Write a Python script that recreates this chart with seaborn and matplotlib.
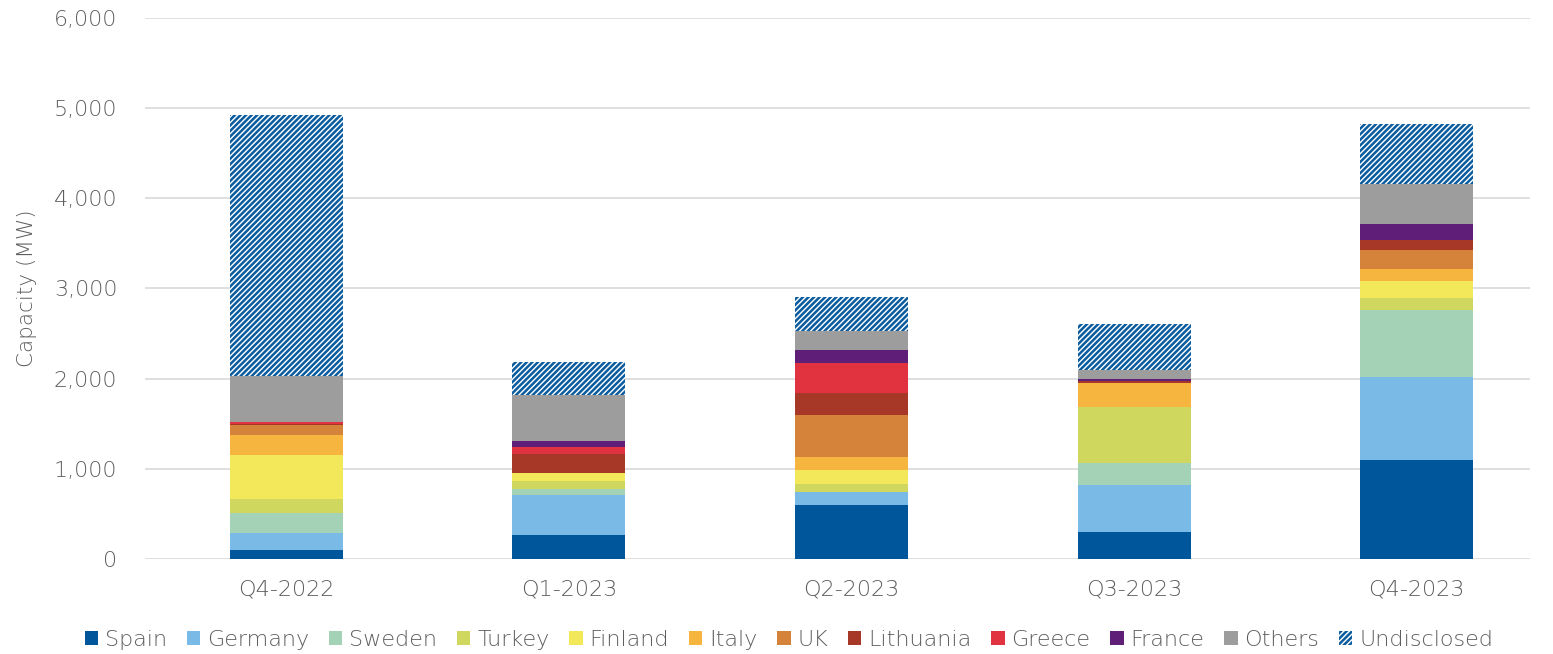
import numpy as np
import pandas as pd
import matplotlib
matplotlib.use("Agg")
import matplotlib.pyplot as plt
from matplotlib.patches import Patch
import seaborn as sns

quarters = ["Q4-2022", "Q1-2023", "Q2-2023", "Q3-2023", "Q4-2023"]

spain = [100, 267, 596, 300, 1100]
germany = [190, 444, 152, 522, 919]
sweden = [220, 63, 0, 245, 740]
turkey = [150, 93, 85, 618, 130]
finland = [490, 92, 156, 0, 189]
italy = [225, 0, 144, 271, 141]
uk = [107, 0, 460, 0, 203]
lithuania = [12, 204, 244, 22, 119]
greece = [25, 78, 341, 0, 0]
france = [0, 63, 141, 20, 170]
others = [511, 518, 214, 103, 448]
undisclosed = [2890, 359, 374, 500, 663]

series_names = ["Spain", "Germany", "Sweden", "Turkey", "Finland", "Italy", "UK",
                "Lithuania", "Greece", "France", "Others", "Undisclosed"]
series_values = [spain, germany, sweden, turkey, finland, italy, uk,
                 lithuania, greece, france, others, undisclosed]
series_colors = ["#00569A", "#7ABAE6", "#A4D2B6", "#CFD75E", "#F2E85A", "#F5B53F",
                 "#D5823A", "#A73727", "#E1323F", "#5F1F78", "#9D9D9D", "#FFFFFF"]
hatch_color = "#0A5C9E"

sns.set_theme(style="white")
plt.rcParams["font.family"] = ["DejaVu Sans"]
plt.rcParams["font.weight"] = "light"
plt.rcParams["axes.labelweight"] = "light"
plt.rcParams["hatch.linewidth"] = 1.8
plt.rcParams["hatch.color"] = hatch_color

text_color = "#5E5E5E"

fig = plt.figure(figsize=(15.53, 6.54), dpi=100)
ax = fig.add_axes([0.0934, 0.1453, 0.8916, 0.8272])

bottom = np.zeros(len(quarters))
handles = []
for name, vals, col in zip(series_names, series_values, series_colors):
    df = pd.DataFrame({"quarter": quarters, "value": vals})
    is_hatched = name == "Undisclosed"
    sns.barplot(data=df, x="quarter", y="value", order=quarters, ax=ax,
                color=col, saturation=1, width=0.4, errorbar=None,
                bottom=bottom.copy(), linewidth=0,
                hatch="//////" if is_hatched else None,
                edgecolor=hatch_color if is_hatched else col, zorder=3)
    bottom = bottom + np.array(vals, dtype=float)
    if is_hatched:
        handles.append(Patch(facecolor="white", edgecolor=hatch_color,
                             hatch="//////", linewidth=0, label=name))
    else:
        handles.append(Patch(facecolor=col, edgecolor=col, linewidth=0, label=name))

ax.set_ylim(0, 6000)
ax.set_xlim(-0.5, 4.4)
ax.set_yticks(np.arange(0, 6001, 1000))
ax.yaxis.set_major_formatter(matplotlib.ticker.FuncFormatter(lambda v, p: f"{int(v):,}"))
ax.grid(axis="y", color="#D9D9D9", linewidth=1.2, zorder=0)
ax.set_axisbelow(True)
for s in ax.spines.values():
    s.set_visible(False)
ax.tick_params(axis="both", length=0, labelsize=16, colors=text_color)
ax.tick_params(axis="y", pad=20)
ax.tick_params(axis="x", pad=15)
ax.set_xlabel("")
ax.set_ylabel("Capacity (MW)", fontsize=15.5, color=text_color, labelpad=12,
              fontweight="light")

fig.legend(handles=handles, loc="center", bbox_to_anchor=(0.508, 0.022),
           ncol=len(handles), frameon=False, fontsize=16, labelcolor=text_color,
           handlelength=0.6, handleheight=0.6, handletextpad=0.3,
           columnspacing=0.9, borderaxespad=0)

fig.savefig("out.png", dpi=100)
